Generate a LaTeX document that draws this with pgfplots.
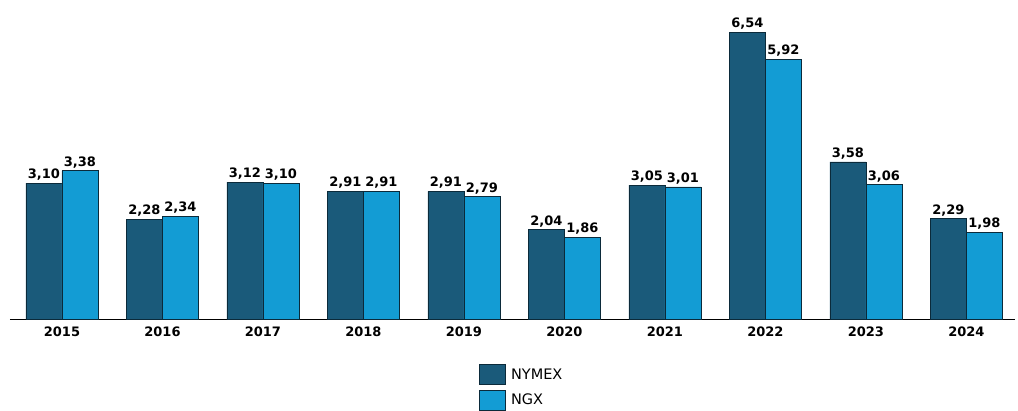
\documentclass[border=0pt]{standalone}
\usepackage{pgfplots}
\pgfplotsset{compat=1.18}
\usepackage{fontspec}
\setmainfont{DejaVu Sans}
\definecolor{nymex}{HTML}{1A5A7A}
\definecolor{ngx}{HTML}{139CD4}
\definecolor{edge}{HTML}{0B2A3A}
\begin{document}
\begin{tikzpicture}[x=1pt,y=1pt]
\path[use as bounding box] (0,0) rectangle (1018,410);
\begin{axis}[
  at={(10pt,91pt)}, anchor=south west,
  scale only axis, width=1005pt, height=307pt,
  xmin=-0.517, xmax=9.483, ymin=0, ymax=7,
  ybar=0pt, bar width=0.358,
  axis x line=bottom, axis y line=none,
  axis line style={black, line width=0.8pt, -},
  xtick=data, xticklabels={2015,2016,2017,2018,2019,2020,2021,2022,2023,2024},
  major tick length=0pt,
  xticklabel style={font=\fontsize{13}{15}\selectfont\bfseries, yshift=-4pt},
  nodes near coords,
  nodes near coords style={font=\fontsize{13}{15}\selectfont\bfseries, yshift=-1pt,
    /pgf/number format/fixed, /pgf/number format/fixed zerofill, /pgf/number format/precision=2, /pgf/number format/use comma, /pgf/number format/assume math mode=true},
  legend style={at={(0.466,-0.147)}, anchor=north west, draw=none, font=\fontsize{14.5}{16}\selectfont, row sep=5pt, inner sep=0pt, cells={anchor=west}},
  legend image code/.code={\fill[#1] (0pt,-10pt) rectangle (26pt,10pt); \path (30pt,0pt);},
  legend cell align=left,
]
\addplot[fill=nymex, draw=edge, line width=0.6pt] coordinates {(0,3.10) (1,2.28) (2,3.12) (3,2.91) (4,2.91) (5,2.04) (6,3.05) (7,6.54) (8,3.58) (9,2.29)};
\addplot[fill=ngx, draw=edge, line width=0.6pt] coordinates {(0,3.38) (1,2.34) (2,3.10) (3,2.91) (4,2.79) (5,1.86) (6,3.01) (7,5.92) (8,3.06) (9,1.98)};
\legend{NYMEX,NGX}
\end{axis}
\end{tikzpicture}
\end{document}
